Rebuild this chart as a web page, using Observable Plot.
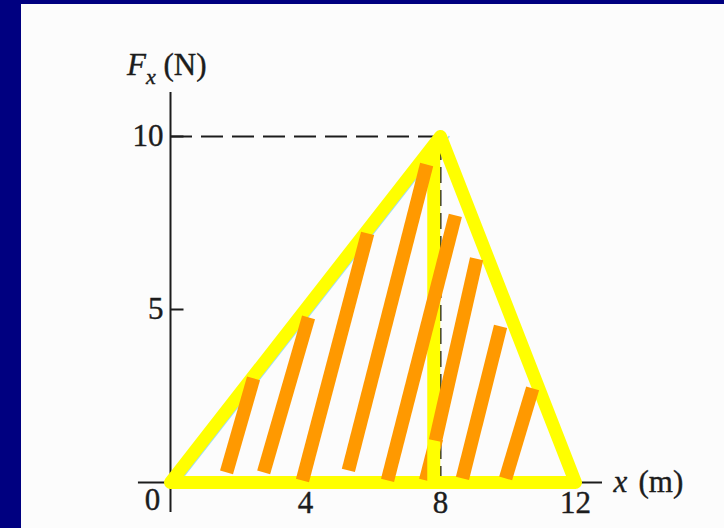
<!DOCTYPE html>
<html>
<head>
<meta charset="utf-8">
<script src="https://cdn.jsdelivr.net/npm/d3@7"></script>
<script src="https://cdn.jsdelivr.net/npm/@observablehq/plot@0.6"></script>
<style>
  html, body { margin: 0; padding: 0; width: 724px; height: 528px; overflow: hidden; background: #fcfcfc; }
  #frame { position: relative; width: 724px; height: 528px; }
  #chart { position: absolute; left: 0; top: 0; }
  .edge-left { position: absolute; left: 0; top: 0; width: 21px; height: 528px; background: #000080; }
  .edge-top { position: absolute; left: 0; top: 0; width: 724px; height: 4px; background: #000080; }
  #ylabel { position: absolute; left: 127px; top: 49px; font: 31px "Liberation Serif", "Times New Roman", serif;
            line-height: 1; color: #1c1c1c; white-space: nowrap; -webkit-text-stroke: 0.4px #1c1c1c; }
  #ylabel sub { font-size: 22px; vertical-align: -9px; line-height: 0; }
</style>
</head>
<body>
<div id="frame">
  <div id="chart"></div>
  <div class="edge-left"></div>
  <div class="edge-top"></div>
  <div id="ylabel"><i>F</i><sub><i>x</i></sub> (N)</div>
</div>
<script>
// Force Fx (N) against position x (m): rises to 10 N at 8 m, back to 0 at 12 m
const curveX = [0, 8, 12];
const curveF = [0, 10, 0];
const peakX = 8;
const peakF = 10;

// tick values
const xTicks = [4, 8, 12];
const yTicks = [5, 10];

// axis line extents
const xAxisFrom = -0.95, xAxisTo = 12.8;
const yAxisFrom = -0.87, yAxisTo = 11.27;

// highlighted split of the area under the curve
const splitX = 7.8;
const splitTop = 9.8;

// hatch strokes shading the area (start/end in data units)
const hatchX1 = [1.66, 2.76, 3.91, 5.27, 6.43, 7.85, 7.56, 8.65, 9.93];
const hatchY1 = [0.29, 0.29, 0.06, 0.35, 0.06, 1.21, 0.06, 0.12, 0.12];
const hatchX2 = [2.46, 4.09, 5.84, 7.59, 8.44, 9.07, 7.88, 9.78, 10.73];
const hatchY2 = [3.01, 4.77, 7.20, 9.19, 7.72, 6.47, 1.27, 4.51, 2.72];
const hatchLayer = ["front", "front", "front", "front", "front", "front", "back", "front", "front"];

const curve = curveX.map((x, i) => ({x, f: curveF[i]}));
const hatch = hatchX1.map((_, i) => ({
  x1: hatchX1[i], y1: hatchY1[i], x2: hatchX2[i], y2: hatchY2[i], layer: hatchLayer[i]
}));

const font = "'Liberation Serif', 'Times New Roman', serif";
const ink = "#1c1c1c";
const yellow = "#ffff00";
const orange = "#ff9900";
const textStyle = {fontSize: 31, fontFamily: font, fill: ink, stroke: ink, strokeWidth: 0.4};

const chart = Plot.plot({
  width: 724,
  height: 528,
  marginLeft: 170,
  marginRight: 149,
  marginTop: 136,
  marginBottom: 46,
  x: {domain: [0, 12]},
  y: {domain: [0, 10]},
  style: {background: "transparent", color: ink, fontFamily: font, fontSize: "31px"},
  marks: [
    // axis lines and inward ticks
    Plot.ruleX([0], {y1: yAxisFrom, y2: yAxisTo, stroke: ink, strokeWidth: 2}),
    Plot.ruleY([0], {x1: xAxisFrom, x2: xAxisTo, stroke: ink, strokeWidth: 2}),
    Plot.ruleY(yTicks, {x1: 0, x2: 0.4, stroke: ink, strokeWidth: 2}),
    Plot.axisY({ticks: yTicks, tickSize: 0, tickPadding: 7, fontSize: 31, fontFamily: font, label: null}),
    Plot.axisX({ticks: xTicks, tickSize: 0, tickPadding: 8, fontSize: 31, fontFamily: font, label: null}),
    Plot.text([0], {x: d => d, y: 0, text: d => String(d), dx: -18, dy: 18, ...textStyle}),

    // dashed guides to the peak
    Plot.ruleY([peakF], {x1: 0, x2: peakX, stroke: ink, strokeWidth: 2, strokeDasharray: "22,9"}),
    Plot.ruleX([peakX], {y1: 0, y2: peakF, stroke: ink, strokeWidth: 2, strokeDasharray: "16,7"}),

    // thin rising edge of the curve
    Plot.line(curve.slice(0, 2), {x: "x", y: "f", stroke: "#9fdcf2", strokeWidth: 1.5, dx: 8.5}),

    // yellow outline of the area
    Plot.line(curve, {x: "x", y: "f", curve: "linear-closed", stroke: yellow, strokeWidth: 13, strokeLinejoin: "round"}),
    Plot.link(hatch.filter(d => d.layer === "back"), {x1: "x1", y1: "y1", x2: "x2", y2: "y2", stroke: orange, strokeWidth: 13.5}),
    Plot.ruleX([splitX], {y1: 0, y2: splitTop, stroke: yellow, strokeWidth: 13}),
    Plot.link(hatch.filter(d => d.layer === "front"), {x1: "x1", y1: "y1", x2: "x2", y2: "y2", stroke: orange, strokeWidth: 13.5}),

    // x axis label
    Plot.text(["x"], {x: xAxisTo, y: 0, text: d => d, dx: 11, textAnchor: "start", fontStyle: "italic", ...textStyle}),
    Plot.text(["(m)"], {x: xAxisTo, y: 0, text: d => d, dx: 36, textAnchor: "start", ...textStyle})
  ]
});

// thicken the axis tick labels slightly, like the other labels
chart.querySelectorAll("[aria-label='x-axis tick label'] text, [aria-label='y-axis tick label'] text")
  .forEach(t => { t.setAttribute("stroke", ink); t.setAttribute("stroke-width", "0.4"); });

document.getElementById("chart").appendChild(chart);
</script>
</body>
</html>
